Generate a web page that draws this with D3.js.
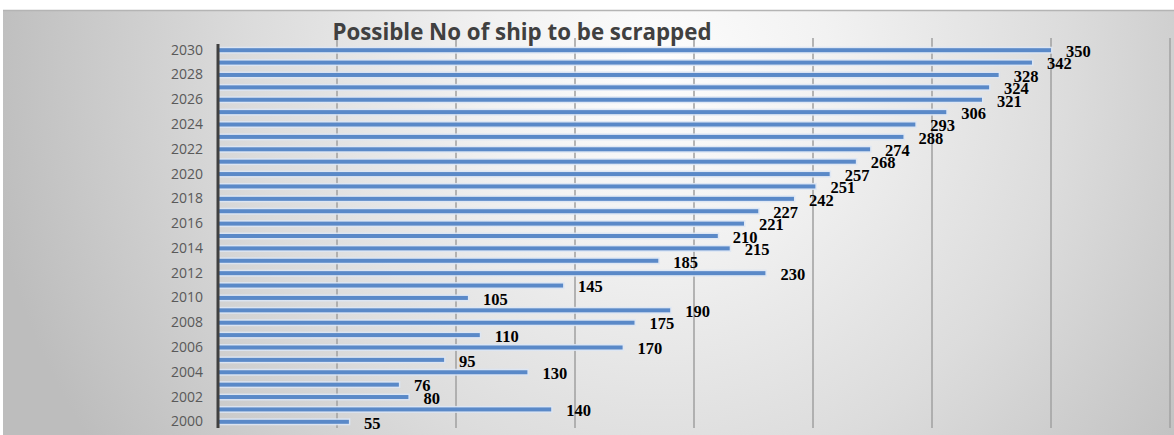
<!DOCTYPE html>
<html>
<head>
<meta charset="utf-8">
<script src="https://cdn.jsdelivr.net/npm/d3@7"></script>
<style>
  html, body { margin: 0; padding: 0; background: #ffffff; }
  svg { display: block; }
</style>
</head>
<body>
<svg id="chart" width="1174" height="435"></svg>
<script>
// Possible number of ships to be scrapped, per year
const years = [2000, 2001, 2002, 2003, 2004, 2005, 2006, 2007, 2008, 2009, 2010,
               2011, 2012, 2013, 2014, 2015, 2016, 2017, 2018, 2019, 2020,
               2021, 2022, 2023, 2024, 2025, 2026, 2027, 2028, 2029, 2030];
const ships = [55, 140, 80, 76, 130, 95, 170, 110, 175, 190, 105,
               145, 230, 185, 215, 210, 221, 227, 242, 251, 257,
               268, 274, 288, 293, 306, 321, 324, 328, 342, 350];
const gridTicks = [50, 100, 150, 200, 250, 300, 350, 400];
const titleText = "Possible No of ship to be scrapped";

const svg = d3.select("#chart");
const W = 1174, H = 435;

// Panel background: soft radial sheen
const defs = svg.append("defs");
const grad = defs.append("radialGradient")
  .attr("id", "bg")
  .attr("gradientUnits", "userSpaceOnUse")
  .attr("cx", 660).attr("cy", 70).attr("r", 680);
grad.append("stop").attr("offset", "0").attr("stop-color", "#fdfdfd");
grad.append("stop").attr("offset", "0.25").attr("stop-color", "#f2f2f2");
grad.append("stop").attr("offset", "0.6").attr("stop-color", "#dcdcdc");
grad.append("stop").attr("offset", "1").attr("stop-color", "#bdbdbd");

svg.append("rect")
  .attr("x", 3).attr("y", 10).attr("width", W - 3).attr("height", H - 10)
  .attr("fill", "url(#bg)");
svg.append("line")
  .attr("x1", 3).attr("x2", W).attr("y1", 10.5).attr("y2", 10.5)
  .attr("stroke", "#b4b4b4").attr("stroke-width", 1.5);

const x = d3.scaleLinear().domain([0, 400]).range([218, 1170]);
const y = d3.scaleBand().domain(years.slice().reverse()).range([44, 428]).padding(0);

// Vertical gridlines
svg.append("g").selectAll("line")
  .data(gridTicks)
  .join("line")
  .attr("x1", d => x(d)).attr("x2", d => x(d))
  .attr("y1", 38).attr("y2", 428)
  .attr("stroke", "#a4a4a4").attr("stroke-width", 1.6);

// Bars with a pale halo
const bars = svg.append("g");
bars.selectAll("rect.halo")
  .data(years)
  .join("rect")
  .attr("class", "halo")
  .attr("x", x(0) + 1)
  .attr("y", d => y(d) + y.bandwidth() / 2 - 3.5)
  .attr("width", (d, i) => x(ships[i]) - x(0) - 1 + 1.5)
  .attr("height", 7)
  .attr("fill", "#dbe6f4")
  .attr("opacity", 0.9);
bars.selectAll("rect.bar")
  .data(years)
  .join("rect")
  .attr("class", "bar")
  .attr("x", x(0) + 1)
  .attr("y", d => y(d) + y.bandwidth() / 2 - 2)
  .attr("width", (d, i) => x(ships[i]) - x(0) - 1)
  .attr("height", 4)
  .attr("fill", "#5a89c8");

// Value labels
svg.append("g").selectAll("text")
  .data(years)
  .join("text")
  .attr("x", (d, i) => x(ships[i]) + 15)
  .attr("y", d => y(d) + y.bandwidth() / 2 + 1)
  .attr("dy", "0.35em")
  .attr("font-family", "'Liberation Serif', 'Times New Roman', serif")
  .attr("font-weight", "bold")
  .attr("font-size", 16.5)
  .attr("fill", "#000")
  .text((d, i) => ships[i]);

// Category axis (every other year labelled)
const yAxis = d3.axisLeft(y)
  .tickValues(years.filter(d => d % 2 === 0))
  .tickSize(0)
  .tickPadding(15)
  .tickFormat(d3.format("d"));
const ag = svg.append("g")
  .attr("transform", `translate(${x(0)},0)`)
  .call(yAxis);
ag.select(".domain").remove();
ag.selectAll("text")
  .attr("font-family", "'Open Sans', sans-serif")
  .attr("font-size", 14)
  .attr("fill", "#595959");

svg.append("line")
  .attr("x1", x(0)).attr("x2", x(0))
  .attr("y1", 44).attr("y2", 428)
  .attr("stroke", "#404040").attr("stroke-width", 3);

// Title
svg.append("text")
  .attr("x", 522).attr("y", 40)
  .attr("text-anchor", "middle")
  .attr("font-family", "'Open Sans', sans-serif")
  .attr("font-weight", "bold")
  .attr("font-size", 22.3)
  .attr("fill", "#404040")
  .text(titleText);
</script>
</body>
</html>
